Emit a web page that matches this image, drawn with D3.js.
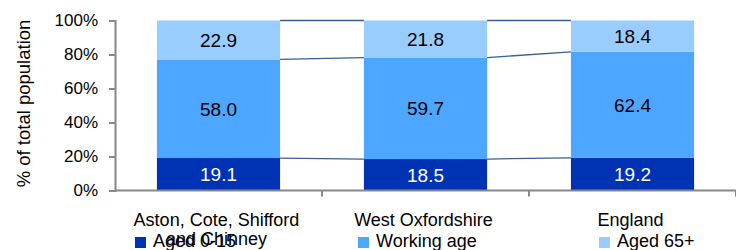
<!DOCTYPE html>
<html>
<head>
<meta charset="utf-8">
<script src="https://cdn.jsdelivr.net/npm/d3@7"></script>
<style>
    body { margin: 0; background: #fff; }
    text { font-family: "Liberation Sans", Arial, sans-serif; fill: #000; }
</style>
</head>
<body>
<script>
const categories = [["Aston, Cote, Shifford", "and Chinney"], ["West Oxfordshire"], ["England"]];
const series = ["Aged 0-15", "Working age", "Aged 65+"];
const aged_0_15 = [19.1, 18.5, 19.2];
const working_age = [58.0, 59.7, 62.4];
const aged_65_plus = [22.9, 21.8, 18.4];
const y_ticks = [0, 20, 40, 60, 80, 100];

const colours = ["#0033b3", "#4da6ff", "#99ccff"];

const width = 736;
const height = 250;
const margin = { left: 115, right: 0, top: 20.5, bottom: 59.5 };

const svg = d3.select("body")
    .append("svg")
    .attr("width", width)
    .attr("height", height);

const rows = categories.map((c, i) => ({
    key: i,
    "Aged 0-15": aged_0_15[i],
    "Working age": working_age[i],
    "Aged 65+": aged_65_plus[i]
}));
const stacked = d3.stack().keys(series)(rows);

const x = d3.scaleBand()
    .domain(d3.range(categories.length))
    .range([margin.left, width - margin.right])
    .paddingInner(0.405)
    .paddingOuter(0.2025);
const y = d3.scaleLinear()
    .domain([0, 100])
    .range([height - margin.bottom, margin.top]);

// bars
const layers = svg.append("g")
    .selectAll("g")
    .data(stacked)
    .join("g")
    .attr("fill", (d, i) => colours[i]);
layers.selectAll("rect")
    .data(d => d)
    .join("rect")
    .attr("x", (d, i) => x(i))
    .attr("width", x.bandwidth())
    .attr("y", d => y(d[1]))
    .attr("height", d => y(d[0]) - y(d[1]));

// series lines between bars
const joins = svg.append("g")
    .attr("stroke", "#3b5e8c")
    .attr("stroke-width", 1.3)
    .attr("fill", "none");
stacked.forEach(layer => {
    for (let i = 0; i < layer.length - 1; i++) {
        joins.append("line")
            .attr("x1", x(i) + x.bandwidth())
            .attr("x2", x(i + 1))
            .attr("y1", y(layer[i][1]))
            .attr("y2", y(layer[i + 1][1]));
    }
});

// value labels
layers.selectAll("text")
    .data(d => d.map(v => ({ v, val: v[1] - v[0] })))
    .join("text")
    .attr("x", (d, i) => x(i) + x.bandwidth() / 2)
    .attr("y", d => y((d.v[0] + d.v[1]) / 2))
    .attr("dy", "0.36em")
    .attr("text-anchor", "middle")
    .style("font-size", "19px")
    .style("fill", (d, i, nodes) => nodes[i].parentNode.__data__.index === 0 ? "#fff" : "#000")
    .text(d => d.val.toFixed(1));

// y axis
const y_axis = svg.append("g")
    .attr("transform", `translate(${margin.left},0)`)
    .call(d3.axisLeft(y).tickValues(y_ticks).tickFormat(d => d + "%").tickSize(6).tickPadding(11));
y_axis.selectAll("text").style("font-size", "17px");

// x axis
const x_axis = svg.append("g")
    .attr("transform", `translate(0,${y(0)})`);
x_axis.append("line")
    .attr("x1", margin.left)
    .attr("x2", width)
    .attr("stroke", "#888")
    .attr("stroke-width", 2);
x_axis.selectAll("line.tick")
    .data(d3.range(categories.length))
    .join("line")
    .attr("class", "tick")
    .attr("x1", d => x(d) + x.bandwidth() / 2 + x.step() / 2)
    .attr("x2", d => x(d) + x.bandwidth() / 2 + x.step() / 2)
    .attr("y1", 0)
    .attr("y2", 6)
    .attr("stroke", "#888")
    .attr("stroke-width", 2);
y_axis.select(".domain").attr("stroke", "#888").attr("stroke-width", 2);
y_axis.selectAll(".tick line").attr("stroke", "#888").attr("stroke-width", 2);

x_axis.selectAll("text")
    .data(categories)
    .join("text")
    .attr("text-anchor", "middle")
    .style("font-size", "18px")
    .each(function (lines, i) {
        d3.select(this)
            .selectAll("tspan")
            .data(lines)
            .join("tspan")
            .attr("x", x(i) + x.bandwidth() / 2 - 2)
            .attr("y", (l, j) => 35 + j * 19.5)
            .text(l => l);
    });

// y title
svg.append("text")
    .attr("transform", `translate(30,${y(50) - 2}) rotate(-90)`)
    .attr("text-anchor", "middle")
    .style("font-size", "18.5px")
    .text("% of total population");

// legend
const legend_x = [135, 358, 599];
const legend = svg.append("g")
    .selectAll("g")
    .data(series)
    .join("g")
    .attr("transform", (d, i) => `translate(${legend_x[i]},237)`);
legend.append("rect")
    .attr("width", 11)
    .attr("height", 11)
    .attr("fill", (d, i) => colours[i]);
legend.append("text")
    .attr("x", 18)
    .attr("y", 10)
    .style("font-size", "18px")
    .text(d => d);
</script>
</body>
</html>
